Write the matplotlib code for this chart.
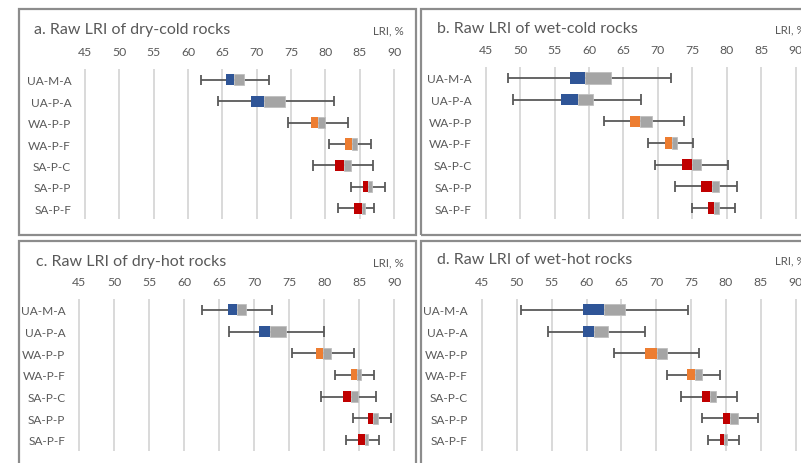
import matplotlib.pyplot as plt
from matplotlib.patches import Rectangle

plt.rcParams['font.family'] = ['Lato', 'DejaVu Sans']

rocks = ['UA-M-A', 'UA-P-A', 'WA-P-P', 'WA-P-F', 'SA-P-C', 'SA-P-P', 'SA-P-F']
ticks = [45, 50, 55, 60, 65, 70, 75, 80, 85, 90]

# min, q1, median, q3, max per rock (LRI, %)
dry_cold_min = [61.9, 64.4, 74.6, 80.6, 78.2, 83.7, 81.8]
dry_cold_q1 = [65.6, 69.2, 77.9, 82.9, 81.4, 85.5, 84.2]
dry_cold_med = [66.7, 71.1, 79.0, 83.9, 82.7, 86.2, 85.3]
dry_cold_q3 = [68.1, 74.1, 80.0, 84.6, 83.7, 86.8, 85.8]
dry_cold_max = [71.8, 81.3, 83.3, 86.7, 86.9, 88.7, 87.1]

wet_cold_min = [48.2, 48.9, 62.1, 68.6, 69.6, 72.5, 74.9]
wet_cold_q1 = [57.2, 55.9, 65.9, 71.0, 73.5, 76.3, 77.3]
wet_cold_med = [59.4, 58.4, 67.4, 72.0, 74.9, 77.8, 78.2]
wet_cold_q3 = [63.2, 60.6, 69.2, 72.7, 76.3, 78.8, 78.8]
wet_cold_max = [71.9, 67.6, 73.8, 75.1, 80.2, 81.5, 81.2]

dry_hot_min = [62.5, 66.4, 75.4, 81.6, 79.6, 84.2, 83.1]
dry_hot_q1 = [66.3, 70.7, 78.8, 83.8, 82.7, 86.3, 84.9]
dry_hot_med = [67.5, 72.2, 79.9, 84.7, 83.8, 87.0, 85.9]
dry_hot_q3 = [68.8, 74.5, 81.0, 85.3, 84.8, 87.7, 86.3]
dry_hot_max = [72.6, 80.0, 84.3, 87.2, 87.4, 89.6, 87.9]

wet_hot_min = [50.6, 54.4, 63.9, 71.6, 73.5, 76.6, 77.4]
wet_hot_q1 = [59.5, 59.5, 68.4, 74.4, 76.6, 79.6, 79.1]
wet_hot_med = [62.5, 61.1, 70.1, 75.6, 77.7, 80.6, 79.7]
wet_hot_q3 = [65.5, 63.1, 71.6, 76.5, 78.6, 81.7, 80.2]
wet_hot_max = [74.5, 68.4, 76.1, 79.1, 81.6, 84.6, 81.9]

colors = {'UA': '#2F5597', 'WA': '#ED7D31', 'SA': '#C00000'}
upper_col = '#A5A5A5'
text_col = '#595959'

W, H = 801, 464
fig = plt.figure(figsize=(W / 100, H / 100), dpi=100)

# frames (pixel coords: x0, y0, x1, y1)
for x0, y0, x1, y1 in [(19, 9.5, 415.7, 235.7), (420.7, 9.5, 815, 235.7),
                       (19, 242.3, 415.7, 475), (420.7, 242.3, 815, 475)]:
    fig.add_artist(Rectangle((x0 / W, 1 - y1 / H), (x1 - x0) / W, (y1 - y0) / H,
                             transform=fig.transFigure, fill=False,
                             edgecolor='#8c8c8c', linewidth=1.6, clip_on=False))


def panel(px45, px90, ytop, ybot, title, tx, ty, lo, q1, med, q3, hi):
    pad = 0.4
    upx = (px90 - px45) / 45.0
    left = px45 - pad * upx
    right = px90 + pad * upx
    ax = fig.add_axes([left / W, 1 - ybot / H, (right - left) / W, (ybot - ytop) / H])
    ax.set_xlim(45 - pad, 90 + pad)
    ax.set_ylim(len(rocks) - 0.5, -0.5)
    for t in ticks:
        ax.axvline(t, color='#d9d9d9', linewidth=1.4, zorder=0)
    y = list(range(len(rocks)))
    cols = [colors[r[:2]] for r in rocks]
    ax.hlines(y, lo, hi, color='#595959', linewidth=1.3, zorder=1)
    ax.vlines(lo, [v - 0.24 for v in y], [v + 0.24 for v in y], color='#595959', linewidth=1.3, zorder=1)
    ax.vlines(hi, [v - 0.24 for v in y], [v + 0.24 for v in y], color='#595959', linewidth=1.3, zorder=1)
    ax.barh(y, [m - a for m, a in zip(med, q1)], left=q1, height=0.52, color=cols, zorder=2)
    ax.barh(y, [b - m for b, m in zip(q3, med)], left=med, height=0.52, color=upper_col,
            edgecolor='#bfbfbf', linewidth=0.6, zorder=2)
    ax.set_xticks(ticks)
    ax.set_yticks(y)
    ax.set_yticklabels(rocks)
    ax.xaxis.tick_top()
    ax.tick_params(axis='x', length=0, pad=8.5, labelsize=8.8, labelcolor=text_col)
    ax.tick_params(axis='y', length=0, pad=8, labelsize=8.6, labelcolor=text_col)
    for s in ax.spines.values():
        s.set_visible(False)
    ax.patch.set_alpha(0)
    fig.text(tx / W, 1 - ty / H, title, fontsize=11.5, color=text_col, ha='left', va='center')
    fig.text((px90 - 21) / W, 1 - (ty + 1) / H, 'LRI, %', fontsize=8.3, color=text_col,
             ha='left', va='center')
    return ax


panel(85, 394, 70, 220, 'a. Raw LRI of dry-cold rocks', 34, 30,
      dry_cold_min, dry_cold_q1, dry_cold_med, dry_cold_q3, dry_cold_max)
panel(485.7, 795.7, 68, 220, 'b. Raw LRI of wet-cold rocks', 437, 29,
      wet_cold_min, wet_cold_q1, wet_cold_med, wet_cold_q3, wet_cold_max)
panel(79.3, 394, 300, 451.7, 'c. Raw LRI of dry-hot rocks', 36, 262,
      dry_hot_min, dry_hot_q1, dry_hot_med, dry_hot_q3, dry_hot_max)
panel(482, 795.7, 300, 451.7, 'd. Raw LRI of wet-hot rocks', 437, 260,
      wet_hot_min, wet_hot_q1, wet_hot_med, wet_hot_q3, wet_hot_max)

fig.savefig('out.png', dpi=100)
